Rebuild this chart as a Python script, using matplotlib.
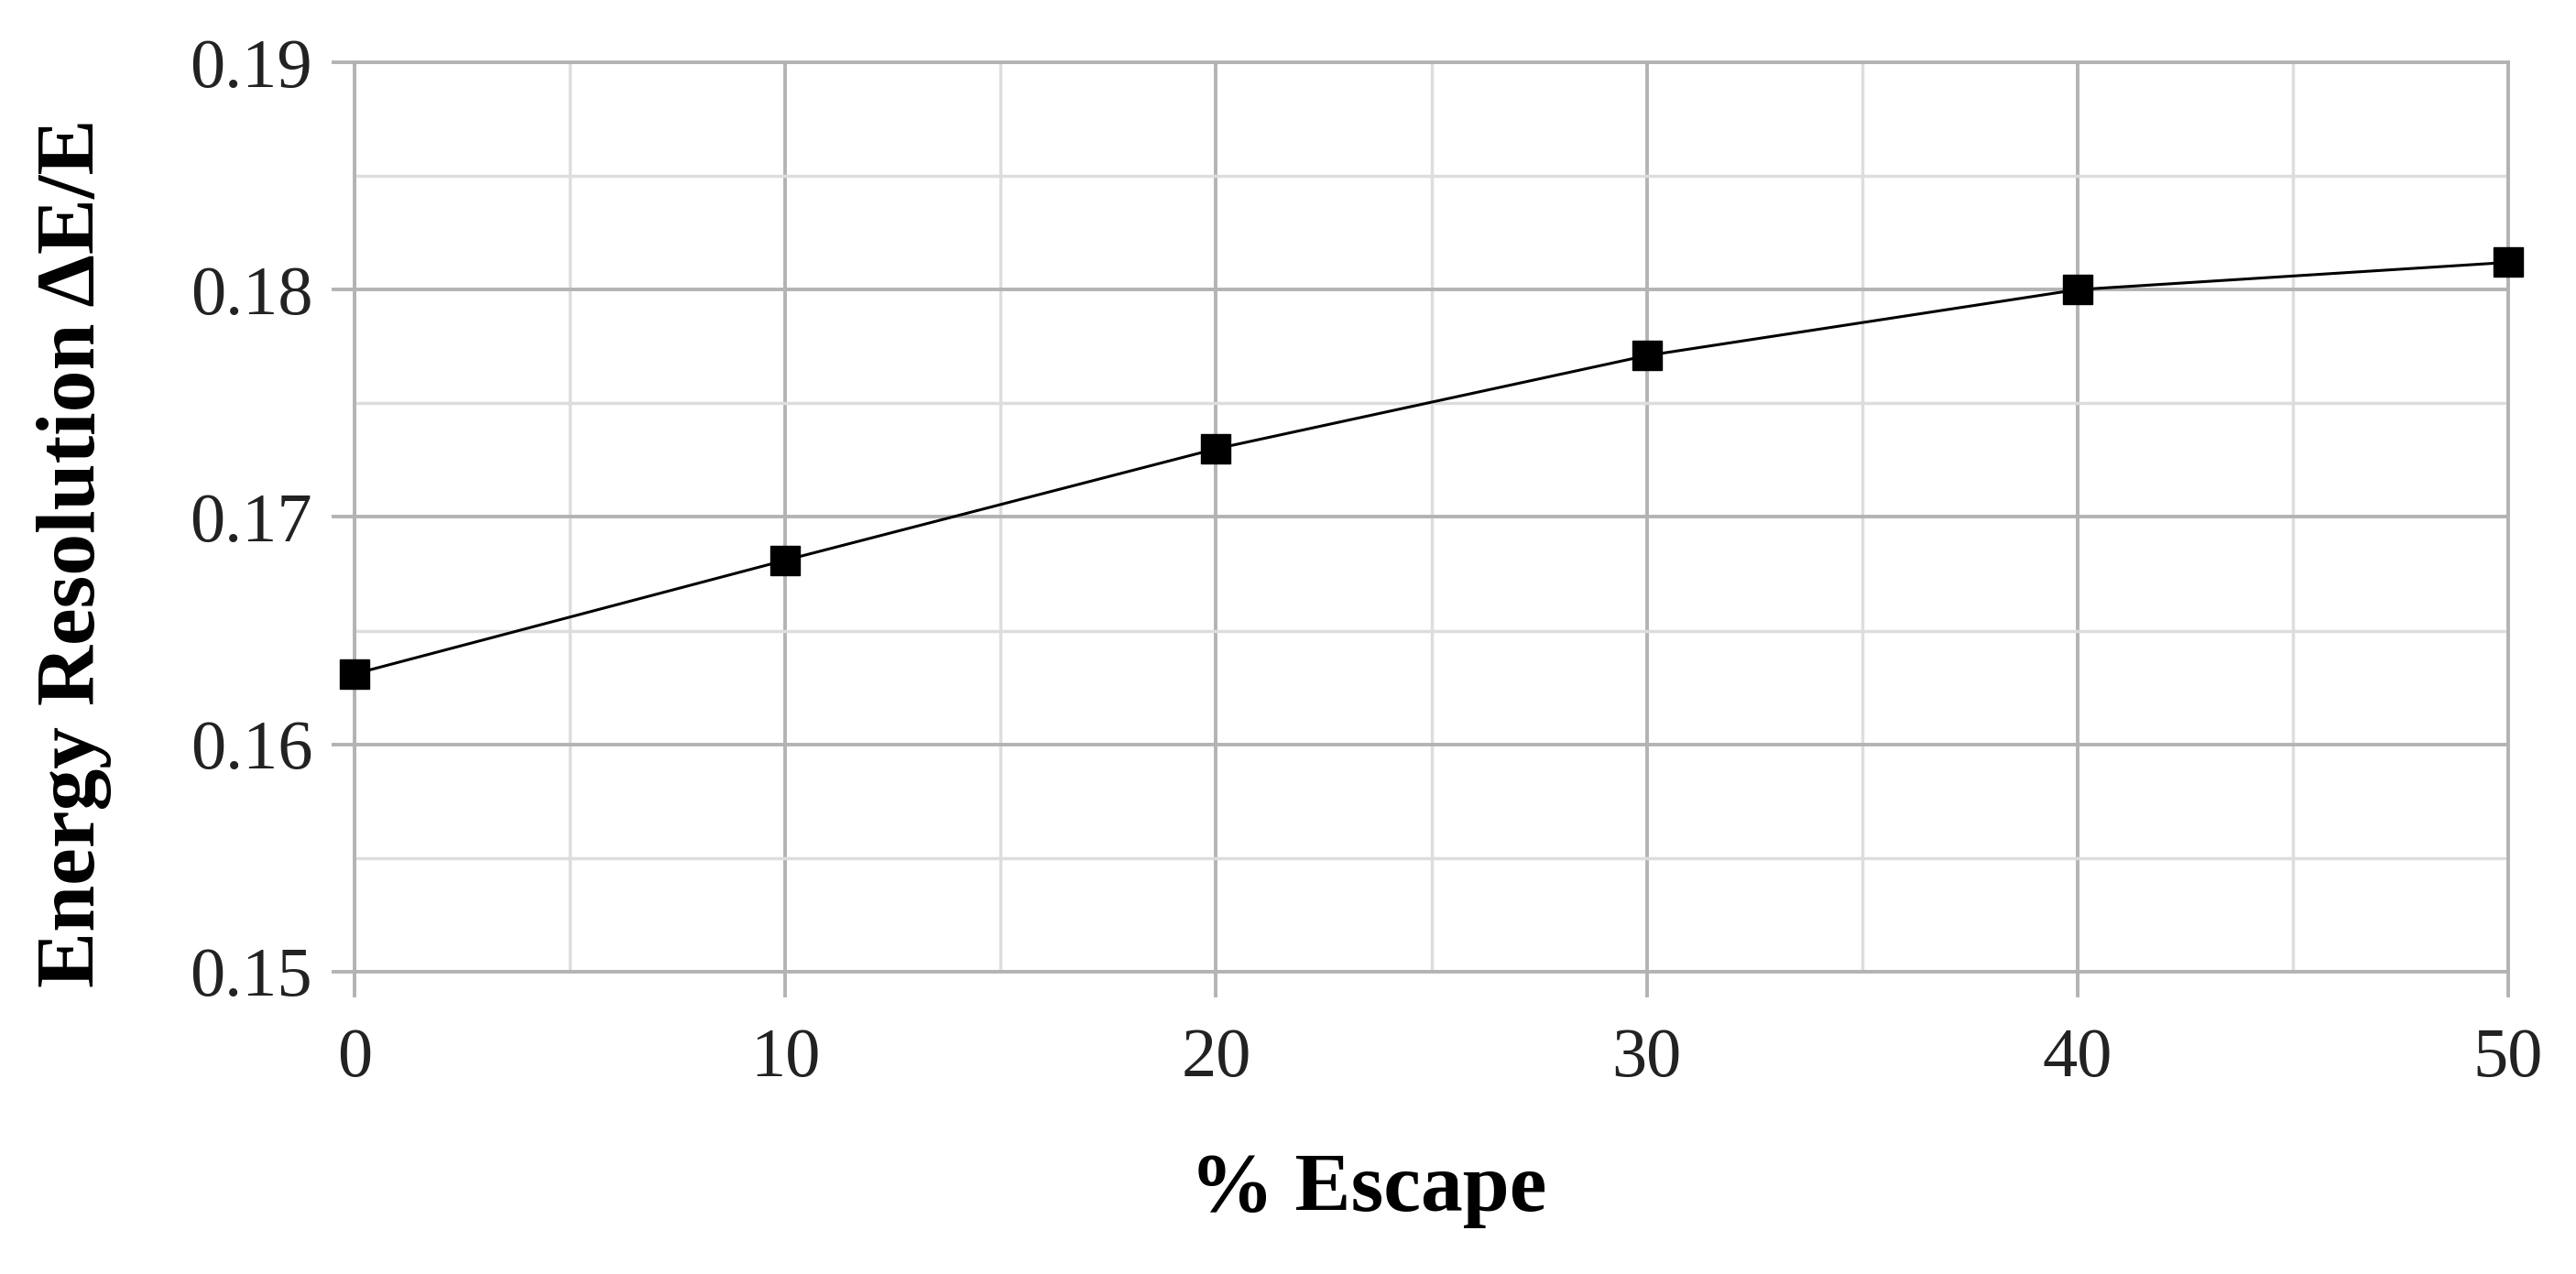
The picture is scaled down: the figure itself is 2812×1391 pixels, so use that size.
import matplotlib.pyplot as plt
from matplotlib.ticker import MultipleLocator

escape = [0, 10, 20, 30, 40, 50]
resolution = [0.1631, 0.1681, 0.1730, 0.1771, 0.1800, 0.1812]
x_ticks = [0, 10, 20, 30, 40, 50]
y_ticks = [0.15, 0.16, 0.17, 0.18, 0.19]

plt.rcParams['font.family'] = ['Liberation Serif', 'DejaVu Serif']

fig = plt.figure(figsize=(28.12, 13.91), dpi=100)
ax = fig.add_axes([387 / 2812, 1 - 1061 / 1391, (2738 - 387) / 2812, (1061 - 68) / 1391])

major = '#b3b3b3'
minor = '#dddddd'

ax.plot(escape, resolution, color='black', linewidth=2.2,
        marker='s', markersize=23, zorder=3, clip_on=False)

ax.set_xlim(0, 50)
ax.set_ylim(0.15, 0.19)
ax.set_xticks(x_ticks)
ax.set_yticks(y_ticks)
ax.set_xticklabels([str(v) for v in x_ticks])
ax.set_yticklabels(['%.2f' % v for v in y_ticks])
ax.xaxis.set_minor_locator(MultipleLocator(5))
ax.yaxis.set_minor_locator(MultipleLocator(0.005))

ax.grid(which='major', color=major, linewidth=2.8, zorder=0)
ax.grid(which='minor', color=minor, linewidth=2.5, zorder=0)
ax.set_axisbelow(True)
for s in ax.spines.values():
    s.set_color(major)
    s.set_linewidth(2.8)

ax.tick_params(which='major', width=2.8, color=major,
               labelsize=55, labelcolor='#222222')
ax.tick_params(axis='y', length=18, pad=15)
ax.tick_params(axis='x', length=20, pad=24)
ax.tick_params(which='minor', length=0)

# axis titles placed like the original
fig.text(1494 / 2812, 1 - 1300 / 1391, '% Escape', fontsize=66, fontweight='bold',
         ha='center', va='center')
fig.text(81 / 2812, 1 - 604 / 1391, 'Energy Resolution ΔE/E', fontsize=66,
         fontweight='bold', rotation=90, ha='center', va='center')

fig.savefig('out.png', dpi=100)
